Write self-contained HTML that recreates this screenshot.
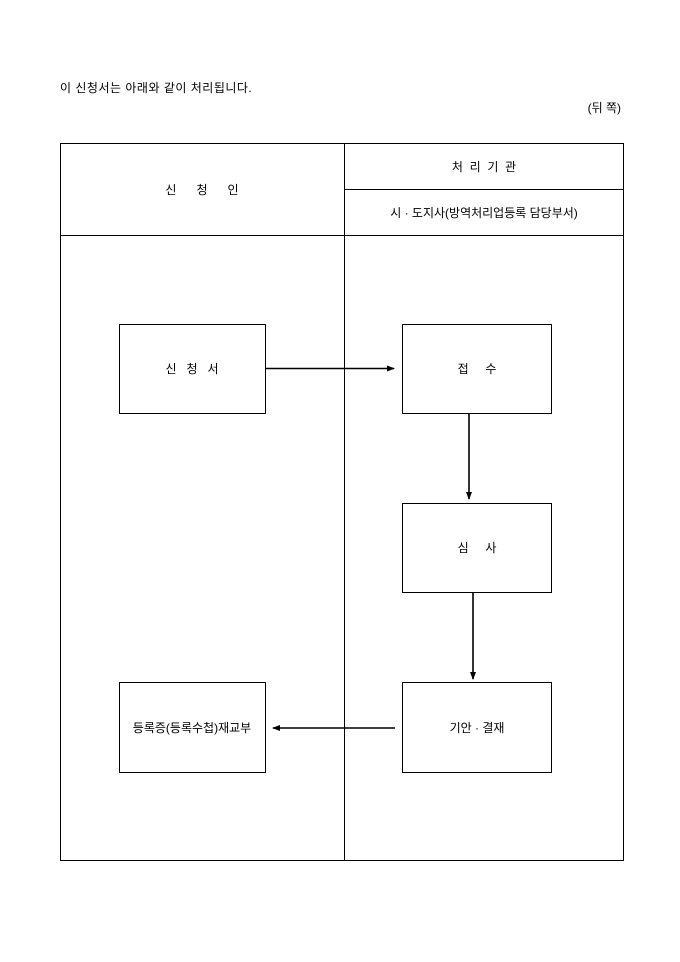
<!DOCTYPE html>
<html><head><meta charset="utf-8"><style>
html,body{margin:0;padding:0;background:#fff;}
svg{display:block;}
text{font-family:"Liberation Sans","Noto Sans CJK KR",sans-serif;font-size:12px;fill:#000;}
</style></head><body>
<svg width="680" height="962" viewBox="0 0 680 962">
<defs><marker id="a" markerWidth="8" markerHeight="8" refX="7" refY="4" orient="auto" markerUnits="userSpaceOnUse"><path d="M0,1 L8,4 L0,7 z" fill="#000"/></marker></defs>
<text x="60" y="92" letter-spacing="0.5">이 신청서는 아래와 같이 처리됩니다.</text>
<text x="621" y="112" text-anchor="end">(뒤 쪽)</text>
<g fill="none" stroke="#000" stroke-width="1">
<rect x="60.5" y="143.5" width="563" height="717"/>
<line x1="344.5" y1="143" x2="344.5" y2="861"/>
<line x1="344" y1="189.5" x2="624" y2="189.5"/>
<line x1="60" y1="235.5" x2="624" y2="235.5"/>
<rect x="119.5" y="324.5" width="146" height="89"/>
<rect x="402.5" y="324.5" width="149" height="89"/>
<rect x="402.5" y="503.5" width="149" height="89"/>
<rect x="402.5" y="682.5" width="149" height="90"/>
<rect x="119.5" y="682.5" width="146" height="90"/>
</g>
<g stroke="#000" stroke-width="1.6" fill="none">
<line x1="266" y1="368.5" x2="394" y2="368.5" marker-end="url(#a)"/>
<line x1="469" y1="414" x2="469" y2="499" marker-end="url(#a)"/>
<line x1="473" y1="593" x2="473" y2="679" marker-end="url(#a)"/>
<line x1="395" y1="728" x2="273" y2="728" marker-end="url(#a)"/>
</g>
<text x="484" y="171" text-anchor="middle">처&#160;&#160;리&#160;&#160;기&#160;&#160;관</text>
<text x="484" y="217" text-anchor="middle">시 · 도지사(방역처리업등록 담당부서)</text>
<text x="202" y="194" text-anchor="middle">신&#160;&#160;&#160;&#160;&#160;&#160;청&#160;&#160;&#160;&#160;&#160;&#160;인</text>
<text x="192" y="373" text-anchor="middle">신&#160;&#160;&#160;청&#160;&#160;&#160;서</text>
<text x="477" y="373" text-anchor="middle">접&#160;&#160;&#160;&#160;&#160;수</text>
<text x="477" y="552" text-anchor="middle">심&#160;&#160;&#160;&#160;&#160;사</text>
<text x="477" y="732" text-anchor="middle">기안 · 결재</text>
<text x="192" y="732" text-anchor="middle">등록증(등록수첩)재교부</text>
</svg>
</body></html>
